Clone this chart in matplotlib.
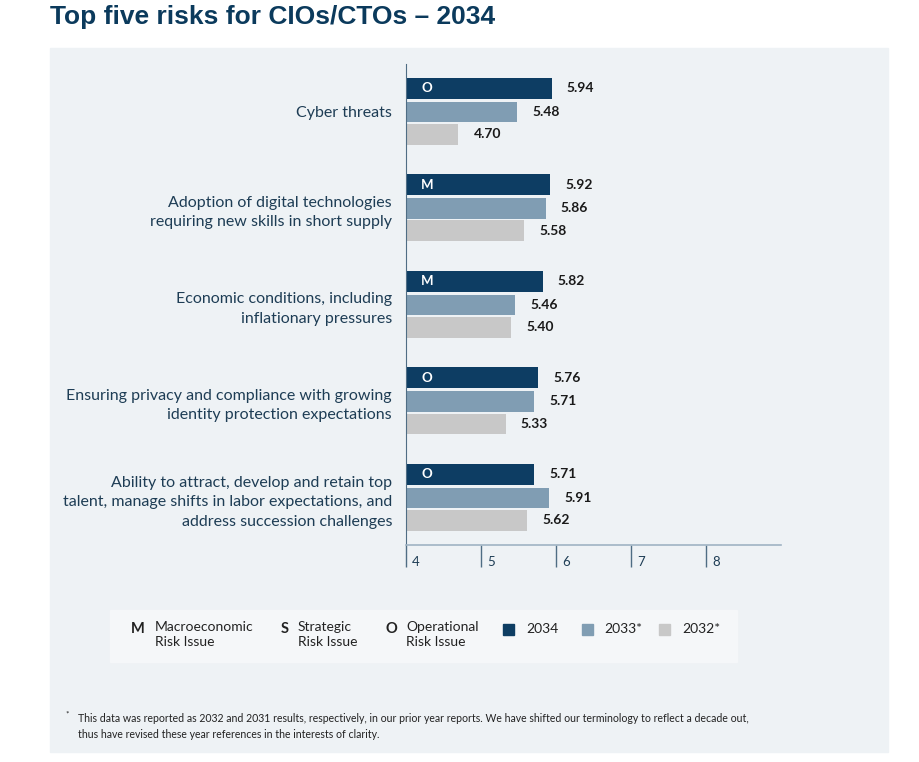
import matplotlib.pyplot as plt
from matplotlib.patches import Rectangle
import matplotlib.transforms as mtransforms

plt.rcParams['font.family'] = ['Lato', 'DejaVu Sans']

# data
risks = [
    "Cyber threats",
    "Adoption of digital technologies\nrequiring new skills in short supply",
    "Economic conditions, including\ninflationary pressures",
    "Ensuring privacy and compliance with growing\nidentity protection expectations",
    "Ability to attract, develop and retain top\ntalent, manage shifts in labor expectations, and\naddress succession challenges",
]
risk_type = ["O", "M", "M", "O", "O"]
y2034 = [5.94, 5.92, 5.82, 5.76, 5.71]
y2033 = [5.48, 5.86, 5.46, 5.71, 5.91]
y2032 = [4.70, 5.58, 5.40, 5.33, 5.62]
years = ["2034", "2033*", "2032*"]
colors = ["#0d3d63", "#809db3", "#c8c8c8"]
x_ticks = [4, 5, 6, 7, 8]

W, H = 920, 762
fig = plt.figure(figsize=(W / 100, H / 100), dpi=100)
fig.patch.set_facecolor("white")


def fx(x):
    return x / W


def fy(y):
    return 1 - y / H


# panel background
fig.patches.append(Rectangle((fx(50), fy(752)), fx(888) - fx(50), fy(48) - fy(752),
                             transform=fig.transFigure, color="#eef2f5", zorder=-2))
# legend box
fig.patches.append(Rectangle((fx(110), fy(662)), fx(737) - fx(110), fy(610) - fy(662),
                             transform=fig.transFigure, color="#f5f7f9", zorder=-1))

fig.text(fx(50), fy(17), "Top five risks for CIOs/CTOs \u2013 2034",
         family=["Liberation Sans Narrow", "Liberation Sans"], fontweight="bold",
         fontsize=19, color="#0b3a5c", va="center", ha="left")

ax = fig.add_axes([fx(406), fy(545), fx(781) - fx(406), fy(64) - fy(545)])
ax.set_zorder(2)
ax.set_facecolor("none")
ax.set_xlim(4, 9)
ax.set_ylim(4.487, -0.497)

offsets = [-0.245, 0.0, 0.232]
h = 0.215
series = [y2034, y2033, y2032]
for s, vals in enumerate(series):
    for i, v in enumerate(vals):
        yy = i + offsets[s]
        ax.barh(yy, v - 4, left=4, height=h, color=colors[s], zorder=2)
        ax.text(v + 0.2, yy, f"{v:.2f}", va="center", ha="left", fontsize=10,
                fontweight="bold", color="#1a1a1a")

for i, t in enumerate(risk_type):
    ax.text(4.28, i + offsets[0], t, va="center", ha="center", fontsize=9.5,
            fontweight="bold", color="white", zorder=3)

ax.set_yticks(range(len(risks)))
ax.set_yticklabels(risks, fontsize=11.5, color="#1e3d55", linespacing=1.5)
ax.tick_params(axis="y", length=0, pad=10)
for lbl in ax.get_yticklabels():
    lbl.set_ha("right")

ax.set_xticks(x_ticks)
ax.set_xticklabels([])
ax.tick_params(axis="x", direction="out", length=16, width=1, color="#4f6d84")
trans = mtransforms.blended_transform_factory(ax.transData, fig.transFigure)
for t in x_ticks:
    ax.text(t + 0.08, fy(562), str(t), transform=trans, va="center", ha="left",
            fontsize=9.5, color="#1e3d55")

for side in ["top", "right"]:
    ax.spines[side].set_visible(False)
ax.spines["left"].set_color("#4f6d84")
ax.spines["bottom"].set_color("#9fb3c3")
ax.spines["bottom"].set_linewidth(1.2)

# legend
leg_c = "#222222"
for lx, ly, code in [(138, 629, "M"), (285, 629, "S"), (391, 629, "O")]:
    fig.text(fx(lx), fy(ly), code, ha="center", va="center", fontsize=10.5,
             fontweight="bold", color=leg_c)
for lx, txt in [(155, "Macroeconomic\nRisk Issue"), (298, "Strategic\nRisk Issue"),
                (406, "Operational\nRisk Issue")]:
    fig.text(fx(lx), fy(621), txt, ha="left", va="top", fontsize=10, color=leg_c,
             linespacing=1.35)
for (sx, tx), c, yr in zip([(503, 526), (582, 604), (659, 682)], colors, years):
    fig.patches.append(Rectangle((fx(sx), fy(635)), fx(11), 11 / H,
                                 transform=fig.transFigure, color=c))
    fig.text(fx(tx), fy(629), yr, ha="left", va="center", fontsize=10, color=leg_c)

# footnote
fig.text(fx(65), fy(714), "*", ha="left", va="center", fontsize=6, color=leg_c)
fig.text(fx(78), fy(718),
         "This data was reported as 2032 and 2031 results, respectively, in our prior year reports. "
         "We have shifted our terminology to reflect a decade out,",
         ha="left", va="center", fontsize=7.6, color=leg_c)
fig.text(fx(78), fy(735), "thus have revised these year references in the interests of clarity.",
         ha="left", va="center", fontsize=7.6, color=leg_c)

fig.savefig("out.png", dpi=100)
